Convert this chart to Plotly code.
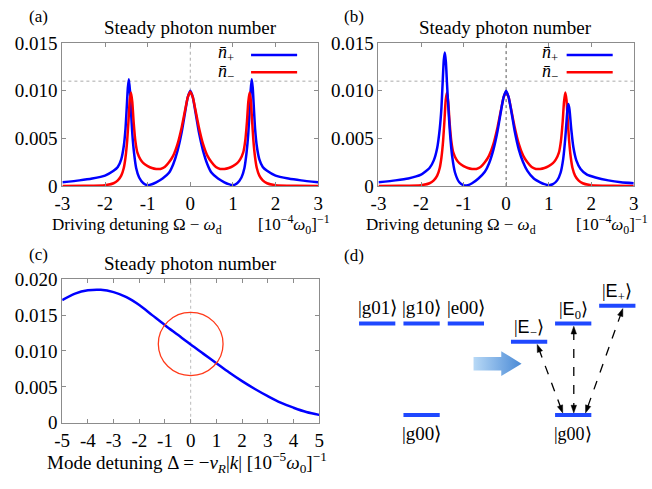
import plotly.graph_objects as go

W, H = 652, 489

# ---------------- data: panels (a) and (b) ----------------
x_plus_a = [-3.0, -2.6, -2.3, -2.0, -1.8, -1.7, -1.62, -1.56, -1.52, -1.49, -1.465, -1.44, -1.415,
            -1.39, -1.36, -1.32, -1.27, -1.2, -1.1, -1.0, -0.9, -0.8, -0.65, -0.5, -0.4, -0.3,
            -0.2, -0.12, -0.06, 0.0, 0.06, 0.12, 0.2, 0.3, 0.4, 0.5, 0.65, 0.8, 0.9, 1.0, 1.1,
            1.2, 1.27, 1.32, 1.36, 1.39, 1.415, 1.44, 1.465, 1.49, 1.52, 1.56, 1.62, 1.7, 1.8,
            2.0, 2.3, 2.6, 3.0]
n_plus_a = [0.0004, 0.0006, 0.0008, 0.0011, 0.0016, 0.0020, 0.0028, 0.0042, 0.0060, 0.0083,
            0.0103, 0.0112, 0.0100, 0.0078, 0.0055, 0.0035, 0.0019, 0.0009, 0.0003, 0.0001,
            0.0002, 0.0004, 0.0008, 0.0014, 0.0023, 0.0037, 0.0057, 0.0078, 0.0093, 0.0100,
            0.0093, 0.0078, 0.0057, 0.0037, 0.0023, 0.0014, 0.0008, 0.0004, 0.0002, 0.0001,
            0.0003, 0.0009, 0.0019, 0.0035, 0.0055, 0.0078, 0.0100, 0.0112, 0.0103, 0.0083,
            0.0060, 0.0042, 0.0028, 0.0020, 0.0016, 0.0011, 0.0008, 0.0006, 0.0004]

x_minus = [-3.0, -2.5, -2.0, -1.8, -1.7, -1.62, -1.56, -1.52, -1.48, -1.45, -1.42, -1.39, -1.36,
           -1.33, -1.29, -1.24, -1.17, -1.1, -1.0, -0.9, -0.8, -0.7, -0.6, -0.5, -0.4, -0.3,
           -0.2, -0.12, -0.06, 0.0, 0.06, 0.12, 0.2, 0.3, 0.4, 0.5, 0.6, 0.7, 0.8, 0.9, 1.0,
           1.1, 1.17, 1.24, 1.29, 1.33, 1.36, 1.39, 1.42, 1.45, 1.48, 1.52, 1.56, 1.62, 1.7,
           1.8, 2.0, 2.5, 3.0]
n_minus = [0.0000, 0.00003, 0.0001, 0.0003, 0.0006, 0.0011, 0.0019, 0.0030, 0.0048, 0.0068,
           0.0090, 0.0098, 0.0088, 0.0068, 0.0048, 0.0035, 0.0028, 0.0024, 0.0021, 0.0019,
           0.0018, 0.0018, 0.0020, 0.0025, 0.0032, 0.0044, 0.0062, 0.0080, 0.0093, 0.0099,
           0.0093, 0.0080, 0.0062, 0.0044, 0.0032, 0.0025, 0.0020, 0.0018, 0.0018, 0.0019,
           0.0021, 0.0024, 0.0028, 0.0035, 0.0048, 0.0068, 0.0088, 0.0098, 0.0090, 0.0068,
           0.0048, 0.0030, 0.0019, 0.0011, 0.0006, 0.0003, 0.0001, 0.00003, 0.0000]

x_plus_b = [-3.0, -2.6, -2.3, -2.0, -1.8, -1.7, -1.62, -1.56, -1.52, -1.49, -1.465, -1.44, -1.415,
            -1.39, -1.36, -1.32, -1.27, -1.2, -1.1, -1.0, -0.9, -0.8, -0.65, -0.5, -0.4, -0.3,
            -0.2, -0.12, -0.06, 0.0, 0.06, 0.12, 0.2, 0.3, 0.4, 0.5, 0.65, 0.8, 0.9, 1.0, 1.1,
            1.2, 1.28, 1.34, 1.39, 1.42, 1.445, 1.465, 1.49, 1.53, 1.58, 1.65, 1.75, 1.9, 2.1,
            2.4, 2.7, 3.0]
n_plus_b = [0.0004, 0.0006, 0.0008, 0.0012, 0.0019, 0.0027, 0.0040, 0.0060, 0.0082, 0.0110,
            0.0132, 0.0140, 0.0130, 0.0108, 0.0084, 0.0056, 0.0032, 0.0014, 0.0004, 0.0001,
            0.0001, 0.0003, 0.0008, 0.0015, 0.0024, 0.0038, 0.0058, 0.0079, 0.0093, 0.0100,
            0.0093, 0.0079, 0.0058, 0.0038, 0.0025, 0.0016, 0.0008, 0.0004, 0.0002, 0.0001,
            0.0002, 0.0006, 0.0014, 0.0028, 0.0050, 0.0068, 0.0082, 0.0086, 0.0080, 0.0060,
            0.0041, 0.0027, 0.0018, 0.0012, 0.0009, 0.0006, 0.0004, 0.0003]

# ---------------- data: panel (c) ----------------
delta_c = [-5, -4.5, -4, -3.5, -3, -2.5, -2, -1.5, -1, -0.5, 0, 0.5, 1, 1.5, 2, 2.5, 3, 3.5, 4, 4.5, 5]
n_c = [0.0171, 0.0180, 0.01845, 0.01852, 0.0182, 0.0175, 0.0164, 0.0150, 0.0136, 0.01225,
       0.0109, 0.0096, 0.0083, 0.0070, 0.0058, 0.0047, 0.0037, 0.0028, 0.0021, 0.0015, 0.0011]

# ---------------- ticks ----------------
xt_ab = [-3, -2, -1, 0, 1, 2, 3]
xt_ab_txt = ["-3", "-2", "-1", "0", "1", "2", "3"]
yt_ab = [0, 0.005, 0.010, 0.015]
yt_ab_txt = ["0", "0.005", "0.010", "0.015"]
xt_c = [-5, -4, -3, -2, -1, 0, 1, 2, 3, 4, 5]
xt_c_txt = ["-5", "-4", "-3", "-2", "-1", "0", "1", "2", "3", "4", "5"]
yt_c = [0, 0.005, 0.010, 0.015, 0.020]
yt_c_txt = ["0", "0.005", "0.010", "0.015", "0.020"]

# ---------------- panel (d) diagram ----------------
left_names = ["|g01⟩", "|g10⟩", "|e00⟩", "|g00⟩"]
left_x = [376.7, 422.0, 467.2, 422.0]
left_y = [327.7, 327.7, 327.7, 423.3]
E = "<span style='font-family:Liberation Sans'>E</span>"
right_names = ["|" + E + "<sub>−</sub>⟩", "|" + E + "<sub>0</sub>⟩", "|" + E + "<sub>+</sub>⟩", "|g00⟩"]
right_x = [531.7, 576.7, 621.7, 576.7]
right_y = [346.7, 327.7, 309.0, 423.3]

SERIF = "Liberation Serif"
BLUE = "#0000ff"
RED = "#ff0000"
AX = "#8c8c8c"

fig = go.Figure()

def px(x):
    return x / W

def py(y):
    return 1 - y / H

LS = dict(width=2.5, shape="spline", smoothing=0.5)
fig.add_trace(go.Scatter(x=x_plus_a, y=n_plus_a, mode="lines", line=dict(color=BLUE, **LS), xaxis="x", yaxis="y"))
fig.add_trace(go.Scatter(x=x_minus, y=n_minus, mode="lines", line=dict(color=RED, **LS), xaxis="x", yaxis="y"))
fig.add_trace(go.Scatter(x=x_minus, y=n_minus, mode="lines", line=dict(color=RED, **LS), xaxis="x2", yaxis="y2"))
fig.add_trace(go.Scatter(x=x_plus_b, y=n_plus_b, mode="lines", line=dict(color=BLUE, **LS), xaxis="x2", yaxis="y2"))
fig.add_trace(go.Scatter(x=delta_c, y=n_c, mode="lines", line=dict(color=BLUE, width=2.5, shape="spline", smoothing=1.0), xaxis="x3", yaxis="y3"))

# big gradient arrow in (d)
arrow_x = [475, 503.3, 503.3, 524, 503.3, 503.3, 475, 475]
arrow_y = [362.7, 362.7, 356.5, 369.5, 382.5, 376.7, 376.7, 362.7]
fig.add_trace(go.Scatter(x=arrow_x, y=arrow_y, mode="lines", fill="toself", line=dict(width=0, color="rgba(0,0,0,0)"),
                         fillgradient=dict(type="horizontal", colorscale=[[0, "#b8d9f6"], [1, "#4a8ad6"]]),
                         xaxis="x4", yaxis="y4", hoverinfo="skip"))

axis_style = dict(showline=True, linecolor=AX, linewidth=1, mirror="ticks", ticks="inside", ticklen=4,
                  tickcolor=AX, showgrid=False, zeroline=False,
                  tickfont=dict(family=SERIF, size=19, color="black"))

fig.update_layout(
    width=W, height=H, margin=dict(l=0, r=0, t=0, b=0), showlegend=False,
    plot_bgcolor="white", paper_bgcolor="white",
    xaxis=dict(domain=[px(55.5), px(316.5)], anchor="y", range=[-3, 3], tickvals=xt_ab, ticktext=xt_ab_txt, **axis_style),
    yaxis=dict(domain=[py(184), py(34.5)], anchor="x", range=[0, 0.015], tickvals=yt_ab, ticktext=yt_ab_txt, **axis_style),
    xaxis2=dict(domain=[px(378), px(638.5)], anchor="y2", range=[-3, 3], tickvals=xt_ab, ticktext=xt_ab_txt, **axis_style),
    yaxis2=dict(domain=[py(184), py(34.5)], anchor="x2", range=[0, 0.015], tickvals=yt_ab, ticktext=yt_ab_txt, **axis_style),
    xaxis3=dict(domain=[px(55.3), px(317.5)], anchor="y3", range=[-5, 5], tickvals=xt_c, ticktext=xt_c_txt, **axis_style),
    yaxis3=dict(domain=[py(431.3), py(281.3)], anchor="x3", range=[0, 0.020], tickvals=yt_c, ticktext=yt_c_txt, **axis_style),
    xaxis4=dict(domain=[px(340), 1], anchor="y4", range=[340, 652], visible=False),
    yaxis4=dict(domain=[0, py(230)], anchor="x4", range=[489, 230], visible=False),
)

shapes = []
# dotted guides
shapes.append(dict(type="line", xref="x", yref="y", x0=0, x1=0, y0=0.010, y1=0.015, line=dict(color="#aaaaaa", width=1, dash="dot"), layer="below"))
shapes.append(dict(type="line", xref="x", yref="y", x0=-3, x1=3, y0=0.011, y1=0.011, line=dict(color="#aaaaaa", width=1, dash="dot"), layer="below"))
shapes.append(dict(type="line", xref="x2", yref="y2", x0=0, x1=0, y0=0, y1=0.015, line=dict(color="#555555", width=1, dash="dot"), layer="below"))
shapes.append(dict(type="line", xref="x2", yref="y2", x0=-3, x1=3, y0=0.011, y1=0.011, line=dict(color="#aaaaaa", width=1, dash="dot"), layer="below"))
shapes.append(dict(type="line", xref="x3", yref="y3", x0=0, x1=0, y0=0, y1=0.020, line=dict(color="#bbbbbb", width=1, dash="dot"), layer="below"))
# circle in (c)
shapes.append(dict(type="circle", xref="x3", yref="y3", x0=-1.26, x1=1.26, y0=0.00658, y1=0.01538, line=dict(color="#ff3a1a", width=1.3)))

annotations = []
# legends (a) and (b)
for xt, xl0, xl1 in [(233, 248, 295), (563, 570, 617)]:
    shapes.append(dict(type="line", xref="paper", yref="paper", x0=px(xl0), x1=px(xl1), y0=py(47), y1=py(47), line=dict(color=BLUE, width=2.5)))
    shapes.append(dict(type="line", xref="paper", yref="paper", x0=px(xl0), x1=px(xl1), y0=py(65), y1=py(65), line=dict(color=RED, width=2.5)))
    annotations.append(dict(xref="paper", yref="paper", x=px(xt), y=py(45), xanchor="right", yanchor="middle", showarrow=False,
                            text="<i>n̄</i><sub>+</sub>", font=dict(family=SERIF, size=18, color="black")))
    annotations.append(dict(xref="paper", yref="paper", x=px(xt), y=py(65.5), xanchor="right", yanchor="middle", showarrow=False,
                            text="<i>n̄</i><sub>−</sub>", font=dict(family=SERIF, size=18, color="black")))

def txt(x, y, s, size=19, xanchor="center", family=SERIF):
    annotations.append(dict(xref="paper", yref="paper", x=px(x), y=py(y), xanchor=xanchor, yanchor="middle",
                            showarrow=False, text=s, font=dict(family=family, size=size, color="black")))

# titles and panel labels
txt(186, 18, "Steady photon number")
txt(508, 18, "Steady photon number")
txt(186, 265, "Steady photon number")
txt(31, 7, "(a)", size=17)
txt(353, 7, "(b)", size=17)
txt(31, 255, "(c)", size=17)
txt(353, 257, "(d)", size=17)

# x labels
xl = "Driving detuning Ω − <i>ω</i><sub>d</sub>"
unit4 = "[10<sup>−4</sup><i>ω</i><sub>0</sub>]<sup>−1</sup>"
txt(43, 226, xl, size=17, xanchor="left")
txt(253, 224, unit4, size=17, xanchor="left")
txt(363, 226, xl, size=17, xanchor="left")
txt(578, 224, unit4, size=17, xanchor="left")
txt(38, 473, "Mode detuning Δ = −<i>v</i><sub><i>R</i></sub>|<i>k</i>| [10<sup>−5</sup><i>ω</i><sub>0</sub>]<sup>−1</sup>", size=19, xanchor="left")

# energy levels (d)
LEV = "#1f48ff"
HW = 18.5
for i, (name, cx, cy) in enumerate(zip(left_names, left_x, left_y)):
    shapes.append(dict(type="line", xref="x4", yref="y4", x0=cx - HW, x1=cx + HW, y0=cy, y1=cy, line=dict(color=LEV, width=4)))
    ly = cy + 19.5 if i == 3 else cy - 17
    annotations.append(dict(xref="x4", yref="y4", x=cx, y=ly, showarrow=False, text=name, font=dict(family=SERIF, size=19, color="black")))
for i, (name, cx, cy) in enumerate(zip(right_names, right_x, right_y)):
    shapes.append(dict(type="line", xref="x4", yref="y4", x0=cx - HW, x1=cx + HW, y0=cy, y1=cy, line=dict(color=LEV, width=4)))
    ly = cy + 20 if i == 3 else cy - 13.5
    annotations.append(dict(xref="x4", yref="y4", x=cx, y=ly, showarrow=False, text=name, font=dict(family=SERIF, size=18, color="black")))

# dashed double arrows with filled heads
links = [((540, 349.5), (566, 421)), ((577.3, 330.5), (577.3, 421)), ((627.3, 312), (589.3, 421))]
for (x0, y0), (x1, y1) in links:
    L = ((x1 - x0) ** 2 + (y1 - y0) ** 2) ** 0.5
    ux, uy = (x1 - x0) / L, (y1 - y0) / L
    shapes.append(dict(type="line", xref="x4", yref="y4", x0=x0 + 5 * ux, y0=y0 + 5 * uy, x1=x1 - 5 * ux, y1=y1 - 5 * uy,
                       line=dict(color="black", width=1.3, dash="dash")))
    for (tx, ty, s) in [(x1, y1, -1), (x0, y0, 1)]:
        bx, by = tx + s * 8 * ux, ty + s * 8 * uy
        nx, ny = -uy * 2.8, ux * 2.8
        path = f"M {tx},{ty} L {bx + nx},{by + ny} L {bx - nx},{by - ny} Z"
        shapes.append(dict(type="path", xref="x4", yref="y4", path=path, fillcolor="black", line=dict(color="black", width=0.5)))

fig.update_layout(shapes=shapes, annotations=annotations)
fig.write_html("out.html", config={"displayModeBar": False}, post_script="document.body.style.margin='0px';")
